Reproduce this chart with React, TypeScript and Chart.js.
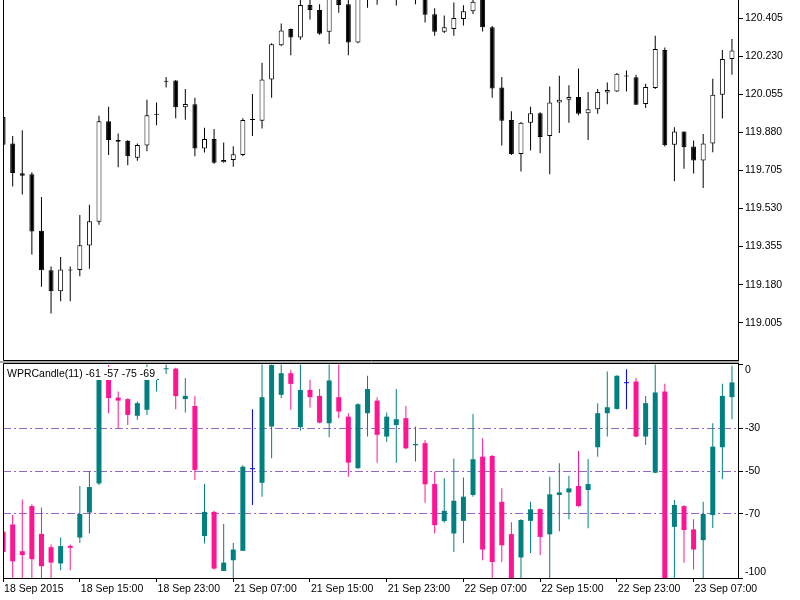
import React, { useEffect, useRef } from 'react';
import { Chart, registerables } from 'chart.js';

Chart.register(...registerables);

// ---------------- data ----------------
const timeTickIndex = [0, 8, 16, 24, 32, 40, 48, 56, 64, 72];
const timeTickLabels = [
  '18 Sep 2015', '18 Sep 15:00', '18 Sep 23:00', '21 Sep 07:00', '21 Sep 15:00',
  '21 Sep 23:00', '22 Sep 07:00', '22 Sep 15:00', '22 Sep 23:00', '23 Sep 07:00',
];

const priceOpen = [
  119.952, 119.829, 119.692, 119.688, 119.428, 119.246, 119.149, 119.249, 119.247, 119.360,
  119.469, 119.932, 119.846, 119.841, 119.764, 119.820, 119.962, 120.114, 120.119, 119.996,
  120.010, 119.806, 119.850, 119.743, 119.753, 119.776, 119.938, 119.934, 120.124, 120.282,
  120.356, 120.317, 120.467, 120.444, 120.344, 120.527, 120.470, 120.294, 120.522, 120.592,
  120.520, 120.543, 120.557, 120.503, 120.507, 120.424, 120.344, 120.356, 120.403, 120.438,
  120.495, 120.365, 120.087, 119.938, 119.781, 119.925, 119.969, 119.864, 120.018, 120.031,
  120.043, 119.969, 119.987, 120.064, 120.069, 120.138, 120.135, 120.011, 120.085, 120.260,
  119.824, 119.885, 119.816, 119.751, 119.829, 120.054, 120.218,
];
const priceHigh = [
  119.965, 119.864, 119.890, 119.697, 119.583, 119.263, 119.307, 119.263, 119.500, 119.548,
  119.957, 119.999, 119.876, 119.846, 119.829, 120.031, 120.018, 120.136, 120.122, 120.080,
  120.040, 119.902, 119.896, 119.834, 119.817, 119.946, 120.057, 120.201, 120.291, 120.382,
  120.359, 120.569, 120.506, 120.470, 120.582, 120.666, 120.495, 120.525, 120.632, 120.599,
  120.568, 120.616, 120.582, 120.540, 120.513, 120.452, 120.419, 120.479, 120.466, 120.548,
  120.515, 120.370, 120.136, 119.978, 119.929, 119.999, 119.973, 120.092, 120.141, 120.098,
  120.175, 120.066, 120.080, 120.110, 120.154, 120.165, 120.146, 120.104, 120.326, 120.271,
  119.904, 119.885, 119.843, 119.873, 120.127, 120.260, 120.311,
];
const priceLow = [
  119.815, 119.632, 119.595, 119.319, 119.170, 119.047, 119.103, 119.103, 119.219, 119.253,
  119.455, 119.776, 119.720, 119.729, 119.750, 119.794, 119.913, 120.087, 119.946, 119.939,
  119.771, 119.788, 119.736, 119.741, 119.723, 119.771, 119.864, 119.899, 120.040, 120.277,
  120.236, 120.307, 120.400, 120.330, 120.288, 120.431, 120.236, 120.291, 120.454, 120.468,
  120.510, 120.465, 120.495, 120.470, 120.387, 120.326, 120.338, 120.326, 120.373, 120.426,
  120.345, 120.040, 119.820, 119.776, 119.701, 119.797, 119.785, 119.688, 119.878, 119.925,
  119.960, 119.846, 119.966, 120.010, 120.066, 120.069, 120.008, 119.993, 120.080, 119.816,
  119.656, 119.713, 119.691, 119.625, 119.789, 119.944, 120.146,
];
const priceClose = [
  119.824, 119.694, 119.681, 119.425, 119.246, 119.149, 119.249, 119.245, 119.361, 119.472,
  119.932, 119.846, 119.838, 119.771, 119.823, 119.960, 119.965, 120.116, 119.996, 120.011,
  119.806, 119.850, 119.741, 119.753, 119.780, 119.938, 119.938, 120.124, 120.286, 120.350,
  120.317, 120.467, 120.444, 120.335, 120.516, 120.467, 120.294, 120.519, 120.593, 120.524,
  120.560, 120.555, 120.497, 120.505, 120.422, 120.344, 120.365, 120.407, 120.438, 120.482,
  120.365, 120.083, 119.934, 119.780, 119.925, 119.969, 119.859, 120.018, 120.031, 120.043,
  119.966, 119.987, 120.066, 120.076, 120.150, 120.138, 120.008, 120.089, 120.264, 119.821,
  119.885, 119.812, 119.751, 119.829, 120.054, 120.219, 120.257,
];

const wprOpen = [
  -78.4, -75.0, -87.5, -66.4, -79.4, -85.6, -93.2, -85.0, -81.1, -69.4,
  -55.8, -3.5, -15.7, -16.4, -24.2, -21.4, -7.3, -2.3, -2.2, -16.4,
  -19.6, -80.4, -69.1, -96.7, -91.7, -87.3, -48.7, -55.5, -29.2, -14.4,
  -4.3, -29.5, -12.1, -14.9, -27.7, -15.5, -24.6, -48.7, -23.0, -17.1,
  -33.9, -28.5, -25.3, -38.0, -37.0, -56.1, -73.4, -79.2, -73.3, -61.2,
  -43.3, -43.0, -64.4, -79.5, -90.4, -73.3, -67.8, -79.6, -61.2, -60.0,
  -57.0, -58.9, -38.9, -23.0, -21.0, -8.5, -8.2, -33.9, -50.8, -12.8,
  -76.1, -66.4, -77.3, -82.3, -70.6, -38.9, -15.5,
];
const wprHigh = [
  -77.0, -70.6, -63.3, -65.5, -67.0, -84.3, -81.1, -84.3, -57.0, -50.0,
  -2.5, -0.5, -12.8, -16.0, -17.5, 0, -1.4, 0, -1.8, -6.6,
  -14.9, -56.1, -68.6, -74.8, -83.6, -47.3, -21.1, 0, 0, 0,
  -2.7, 0, -7.4, -11.7, 0, 0, -23.0, -18.3, -5.5, -15.5,
  -22.7, -11.7, -19.6, -29.2, -35.5, -50.3, -53.4, -44.2, -53.0, -23.4,
  -34.7, -42.5, -58.1, -74.0, -72.5, -64.4, -67.5, -52.7, -46.4, -52.2,
  -40.6, -44.4, -18.3, -3.5, -5.3, -2.4, -6.6, -14.9, 0, -9.2,
  -63.6, -66.0, -72.6, -64.4, -27.7, -9.2, -0.8,
];
const wprLow = [
  -88.5, -100, -100, -100, -100, -100, -96.4, -96.4, -83.6, -79.2,
  -56.6, -23.0, -30.0, -28.5, -26.1, -23.8, -12.8, -4.7, -21.1, -22.7,
  -54.2, -83.9, -96.0, -96.7, -100, -87.3, -65.9, -62.0, -44.1, -16.0,
  -21.4, -31.1, -20.3, -27.7, -34.2, -25.3, -52.7, -48.9, -33.9, -46.1,
  -36.3, -46.1, -39.8, -45.6, -64.8, -79.2, -74.2, -87.8, -83.6, -62.0,
  -91.7, -100, -92.5, -100, -100, -88.3, -89.3, -100, -78.1, -72.6,
  -66.7, -76.8, -43.3, -33.9, -21.3, -21.1, -34.2, -37.8, -51.1, -100,
  -100, -92.9, -96.0, -100, -76.6, -53.9, -25.8,
];
const wprClose = [
  -87.8, -92.2, -89.3, -91.2, -94.5, -92.8, -85.1, -85.9, -70.1, -57.5,
  -3.0, -15.9, -17.1, -23.8, -18.3, -7.2, -7.0, -2.0, -15.0, -14.9,
  -49.5, -69.1, -95.6, -92.8, -86.7, -48.0, -48.7, -15.5, -0.5, -4.3,
  -9.3, -12.1, -15.5, -27.4, -7.7, -22.2, -46.1, -18.8, -11.7, -33.1,
  -24.6, -25.8, -39.4, -37.4, -56.2, -75.3, -68.6, -63.9, -62.0, -44.5,
  -86.7, -92.5, -84.7, -100, -72.9, -67.9, -80.8, -60.9, -60.0, -58.1,
  -66.4, -56.1, -23.0, -20.2, -5.5, -8.5, -33.9, -18.3, -13.3, -100,
  -65.9, -77.6, -86.7, -70.1, -38.6, -14.9, -8.6,
];

const priceTicks = [119.005, 119.18, 119.355, 119.53, 119.705, 119.88, 120.055, 120.23, 120.405];
const wprTicks = [0, -30, -50, -70, -100];
const wprLevels = [-30, -50, -70];
const wprTitle = 'WPRCandle(11) -61 -57 -75 -69';

// ---------------- layout / style ----------------
const CANVAS_W = 800;
const TOP_H = 361;
const BOT_H = 239;
const PLOT_LEFT = 3;
const AXIS_W = 62;
const X_AXIS_H = 22;
const X_MIN = -0.01;
const X_MAX = 76.63;
const PRICE_MIN = 118.833;
const PRICE_MAX = 120.49;

const FONT = { family: "'Liberation Sans', Arial, sans-serif", size: 10.5 };
const TEAL = '#008080';
const PINK = '#ff1493';
const BLUE = '#0000ff';
const LEVEL = '#9966cc';

const idx = priceOpen.map((_, i) => i);

const wprColor = (i: number) =>
  wprClose[i] > wprOpen[i] ? TEAL : wprClose[i] < wprOpen[i] ? PINK : BLUE;

const topFrame = {
  id: 'topFrame',
  afterDraw(chart: any) {
    const { ctx, chartArea: a } = chart;
    ctx.save();
    ctx.strokeStyle = '#000';
    ctx.lineWidth = 1;
    ctx.beginPath();
    ctx.moveTo(a.left + 0.5, 0);
    ctx.lineTo(a.left + 0.5, a.bottom + 0.5);
    ctx.lineTo(a.right + 1, a.bottom + 0.5);
    ctx.stroke();
    ctx.restore();
  },
};

const bottomFrame = {
  id: 'bottomFrame',
  afterDraw(chart: any) {
    const { ctx, chartArea: a } = chart;
    ctx.save();
    ctx.fillStyle = '#a8a8a8';
    ctx.fillRect(0, 0, a.right + 1, 2);
    ctx.strokeStyle = '#000';
    ctx.lineWidth = 1;
    ctx.beginPath();
    ctx.moveTo(a.left + 0.5, a.bottom + 0.5);
    ctx.lineTo(a.left + 0.5, a.top - 0.5);
    ctx.lineTo(a.right + 1, a.top - 0.5);
    ctx.stroke();
    // indicator caption with opaque background
    ctx.font = `${FONT.size}px ${FONT.family}`;
    const w = ctx.measureText(wprTitle).width;
    ctx.fillStyle = '#fff';
    ctx.fillRect(a.left + 2, a.top + 3, w + 4, 13);
    ctx.fillStyle = '#000';
    ctx.textBaseline = 'middle';
    ctx.textAlign = 'left';
    ctx.fillText(wprTitle, a.left + 4, a.top + 10.5);
    ctx.restore();
  },
};

function xScale(show: boolean) {
  return {
    type: 'linear',
    min: X_MIN,
    max: X_MAX,
    offset: false,
    bounds: 'data',
    display: show,
    grid: {
      display: show,
      offset: false,
      drawOnChartArea: false,
      drawTicks: true,
      tickLength: 4,
      color: '#000',
      tickColor: '#000',
    },
    border: { display: show, color: '#000', width: 1 },
    ticks: {
      autoSkip: false,
      maxRotation: 0,
      minRotation: 0,
      align: 'start',
      labelOffset: 1,
      padding: 1,
      font: FONT,
      color: '#000',
      callback: (_v: any, i: number) => timeTickLabels[i] ?? '',
    },
    afterBuildTicks: (s: any) => {
      s.ticks = timeTickIndex.map((v) => ({ value: v }));
    },
    afterFit: (s: any) => {
      s.height = show ? X_AXIS_H : 0;
      s.paddingLeft = 0;
      s.paddingRight = 0;
    },
  };
}

function candleSets(
  lo: number[], hi: number[], op: number[], cl: number[],
  wickColor: any, bodyColor: any, borderColor: any, borderWidth: number,
) {
  return [
    {
      type: 'bar',
      label: 'wick',
      data: idx.map((i) => ({ x: i, y: [lo[i], hi[i]] })),
      backgroundColor: wickColor,
      borderWidth: 0,
      barThickness: 1,
      inflateAmount: 0,
      grouped: false,
      order: 2,
      clip: 0,
    },
    {
      type: 'bar',
      label: 'body',
      data: idx.map((i) => ({ x: i, y: [op[i], cl[i]] })),
      backgroundColor: bodyColor,
      borderColor,
      borderWidth,
      borderSkipped: false,
      barThickness: 5,
      minBarLength: 1,
      inflateAmount: 0,
      grouped: false,
      order: 1,
      clip: 0,
    },
  ];
}

export default function App() {
  const topRef = useRef<HTMLCanvasElement>(null);
  const botRef = useRef<HTMLCanvasElement>(null);

  useEffect(() => {
    const common = {
      responsive: false,
      maintainAspectRatio: false,
      animation: false,
      devicePixelRatio: 1,
      events: [],
    };

    const top = new Chart(topRef.current as HTMLCanvasElement, {
      type: 'bar',
      data: {
        datasets: candleSets(
          priceLow, priceHigh, priceOpen, priceClose,
          '#000',
          idx.map((i) => (priceClose[i] >= priceOpen[i] ? '#fff' : '#000')),
          '#000', 1,
        ) as any,
      },
      options: {
        ...common,
        layout: { padding: { left: PLOT_LEFT, right: 0, top: 0, bottom: 1 } },
        plugins: { legend: { display: false }, tooltip: { enabled: false } },
        scales: {
          x: xScale(false) as any,
          y: {
            type: 'linear',
            position: 'right',
            min: PRICE_MIN,
            max: PRICE_MAX,
            bounds: 'data',
            beginAtZero: false,
            grid: { drawOnChartArea: false, drawTicks: true, tickLength: 5, tickColor: '#000', color: '#000' },
            border: { display: true, color: '#000', width: 1 },
            ticks: {
              autoSkip: false,
              font: FONT,
              color: '#000',
              padding: 2,
              callback: (v: any) => Number(v).toFixed(3),
            },
            afterBuildTicks: (s: any) => {
              s.ticks = priceTicks.map((v) => ({ value: v }));
            },
            afterFit: (s: any) => {
              s.width = AXIS_W;
              s.paddingTop = 0;
              s.paddingBottom = 0;
            },
          } as any,
        },
      } as any,
      plugins: [topFrame],
    });

    const wprColors = idx.map(wprColor);
    const bot = new Chart(botRef.current as HTMLCanvasElement, {
      type: 'bar',
      data: {
        datasets: candleSets(
          wprLow, wprHigh, wprOpen, wprClose,
          wprColors, wprColors, wprColors, 0,
        ) as any,
      },
      options: {
        ...common,
        layout: { padding: { left: PLOT_LEFT, right: 0, top: 3, bottom: 0 } },
        plugins: { legend: { display: false }, tooltip: { enabled: false } },
        scales: {
          x: xScale(true) as any,
          y: {
            type: 'linear',
            position: 'right',
            min: -100,
            max: 0,
            bounds: 'data',
            beginAtZero: false,
            grid: {
              drawOnChartArea: true,
              drawTicks: true,
              tickLength: 5,
              tickColor: '#000',
              lineWidth: 1,
              color: (c: any) =>
                c.tick && wprLevels.includes(c.tick.value) ? LEVEL : 'rgba(0,0,0,0)',
            },
            border: { display: true, color: '#000', width: 1, dash: [8, 3, 2, 3] },
            ticks: {
              autoSkip: false,
              font: FONT,
              color: '#000',
              padding: 2,
              callback: (v: any) =>
                v === 0 ? ['', '0'] : v === -100 ? ['-100', ''] : String(v),
            },
            afterBuildTicks: (s: any) => {
              s.ticks = wprTicks.map((v) => ({ value: v }));
            },
            afterFit: (s: any) => {
              s.width = AXIS_W;
              s.paddingTop = 0;
              s.paddingBottom = 0;
            },
          } as any,
        },
      } as any,
      plugins: [bottomFrame],
    });

    return () => {
      top.destroy();
      bot.destroy();
    };
  }, []);

  return (
    <div
      style={{
        position: 'fixed',
        left: 0,
        top: 0,
        width: CANVAS_W,
        height: TOP_H + BOT_H,
        background: '#fff',
      }}
    >
      <canvas
        ref={topRef}
        width={CANVAS_W}
        height={TOP_H}
        style={{ position: 'absolute', left: 0, top: 0 }}
      />
      <canvas
        ref={botRef}
        width={CANVAS_W}
        height={BOT_H}
        style={{ position: 'absolute', left: 0, top: TOP_H }}
      />
    </div>
  );
}
